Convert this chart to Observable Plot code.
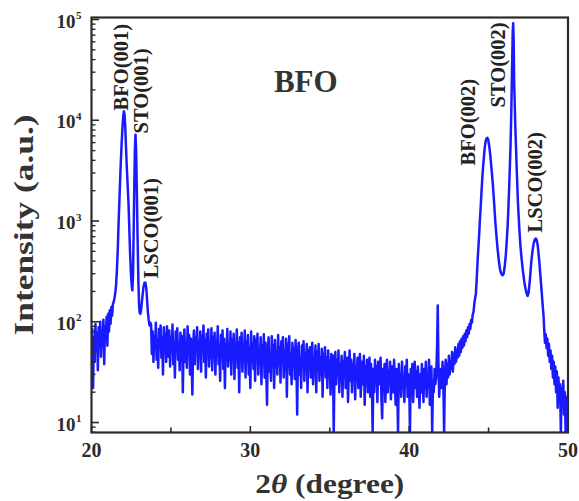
<!DOCTYPE html>
<html>
<head>
<meta charset="utf-8">
<script src="https://cdn.jsdelivr.net/npm/d3@7"></script>
<script src="https://cdn.jsdelivr.net/npm/@observablehq/plot@0.6"></script>
<style>
  html, body { margin: 0; padding: 0; background: #fff; }
  #chart svg { display: block; }
</style>
</head>
<body>
<div id="chart"></div>
<script>
// ---------- data ----------
const scanStep = 0.05; // 2θ step of the evenly sampled scan parts

// background 20.00 – 21.30
const noiseAStart = 20.00;
const noiseA = [48, 85, 22, 70, 40, 95, 52, 78, 33, 88,
  56, 100, 45, 82, 60, 105, 38, 90, 66, 112,
  58, 120, 80, 130, 95, 140, 115];

// BFO(001) / STO(001) / LSCO(001) region
const peak1Theta = [21.35, 21.40, 21.45, 21.50, 21.55, 21.60, 21.65, 21.70, 21.75, 21.80,
  21.85, 21.90, 21.95, 22.00, 22.04, 22.08, 22.12, 22.17, 22.22, 22.28,
  22.33, 22.38, 22.43, 22.48, 22.53, 22.57, 22.61, 22.65, 22.69, 22.73,
  22.77, 22.81, 22.85, 22.90, 22.95, 23.00, 23.04, 23.08, 23.13, 23.20,
  23.27, 23.33, 23.39, 23.45, 23.50, 23.55, 23.60, 23.65, 23.70];
const peak1Int = [150, 158, 172, 195, 235, 330, 500, 900, 1500, 2500,
  4000, 6000, 8500, 11000, 12300, 11500, 9000, 5500, 3500, 2200,
  1500, 850, 480, 310, 230, 205, 270, 700, 2000, 5000,
  7200, 5000, 2200, 700, 260, 140, 122, 120, 135, 175,
  220, 243, 245, 215, 165, 125, 105, 92, 98];

// background 23.75 – 41.65
const noiseBStart = 23.75;
const noiseB = [
  95, 48, 80, 40, 72, 55, 98, 42, 66, 35, 85, 58, 92, 44, 70, 30, 88, 52, 76, 40,
  90, 60, 45, 82, 36, 70, 50, 94, 38, 64, 28, 80, 55, 86, 42, 62, 33, 78, 48, 72,
  20, 66, 84, 40, 58, 35, 90, 52, 74, 30, 68, 45, 19, 60, 82, 38, 70, 50, 88, 34,
  62, 46, 80, 32, 72, 55, 92, 40, 66, 28, 76, 50, 84, 36, 60, 44, 86, 33, 70, 48,
  78, 30, 64, 52, 90, 38, 58, 26, 74, 46, 82, 34, 68, 22, 60, 48, 85, 36, 56, 42,
  80, 30, 66, 44, 76, 27, 58, 50, 84, 35, 62, 20, 70, 42, 78, 32, 54, 46, 82, 28,
  64, 40, 74, 30, 56, 22, 80, 44, 60, 34, 72, 26, 66, 48, 76, 30, 52, 38, 70, 24,
  58, 42, 75, 28, 62, 36, 15, 54, 70, 32, 48, 26, 72, 40, 58, 22, 66, 36, 50, 30,
  74, 38, 56, 25, 64, 44, 70, 28, 52, 34, 68, 18, 60, 40, 72, 30, 48, 24, 62, 36,
  54, 27, 66, 40, 12, 50, 62, 30, 44, 22, 58, 36, 64, 26, 48, 34, 60, 20, 52, 38,
  56, 28, 46, 62, 24, 42, 34, 58, 20, 50, 36, 60, 26, 44, 30, 54, 18, 48, 38, 56,
  28, 44, 22, 52, 34, 40, 19, 48, 30, 46, 8, 36, 50, 24, 42, 30, 52, 20, 38, 26,
  46, 18, 40, 30, 50, 22, 36, 44, 16, 34, 52, 26, 42, 20, 38, 28, 48, 17, 36, 30,
  44, 22, 34, 48, 18, 30, 40, 24, 46, 15, 36, 28, 42, 20, 32, 44, 18, 38, 26, 8,
  34, 20, 42, 26, 36, 16, 40, 24, 30, 44, 18, 11, 34, 22, 38, 16, 28, 42, 20, 32,
  24, 40, 17, 30, 36, 20, 42, 26, 15, 34, 22, 8, 38, 24, 30, 18, 40, 22, 28, 16,
  36, 24, 42, 18, 30, 26, 8, 34, 20, 38, 16, 28, 40, 22, 32, 18, 36, 24, 14, 30,
  20, 38, 26, 16, 34, 22, 40, 18, 30, 24, 42, 15, 28, 36, 8, 26, 20, 34, 24];

// narrow spike near 41.8
const spikeTheta = [41.70, 41.76, 41.80, 41.84, 41.89, 41.95];
const spikeInt = [28, 60, 145, 40, 18, 30];

// background rising 42.00 – 44.10
const noiseCStart = 42.00;
const noiseC = [34, 22, 40, 26, 8, 30, 42, 24, 38, 28,
  46, 30, 40, 34, 50, 32, 48, 38, 56, 40,
  52, 44, 60, 46, 64, 50, 68, 55, 72, 58,
  76, 64, 82, 70, 88, 76, 95, 85, 104, 98,
  118, 125, 150];

// BFO(002) / STO(002) / LSCO(002) region
const peak2Theta = [44.15, 44.20, 44.25, 44.30, 44.35, 44.40, 44.45, 44.50, 44.55, 44.60,
  44.65, 44.70, 44.75, 44.80, 44.85, 44.92, 44.98, 45.05, 45.12, 45.20,
  45.27, 45.35, 45.42, 45.50, 45.57, 45.65, 45.72, 45.80, 45.88, 45.95,
  46.02, 46.08, 46.14, 46.20, 46.26, 46.32, 46.38, 46.43, 46.48, 46.52,
  46.55, 46.58, 46.61, 46.64, 46.68, 46.72, 46.78, 46.85, 46.93, 47.00,
  47.08, 47.16, 47.25, 47.33, 47.40, 47.46, 47.52, 47.60, 47.68, 47.76,
  47.84, 47.92, 47.98, 48.04, 48.10, 48.18, 48.26, 48.34, 48.40, 48.46];
const peak2Int = [170, 190, 260, 380, 520, 700, 1000, 1350, 1900, 2600,
  3400, 4200, 5200, 6000, 6500, 6700, 6400, 5400, 4300, 3100,
  2300, 1500, 1000, 700, 520, 400, 330, 300, 290, 300,
  360, 450, 620, 900, 1500, 2800, 5500, 12000, 35000, 75000,
  92000, 60000, 24000, 16000, 9000, 5800, 3000, 1500, 870, 580,
  420, 320, 250, 210, 190, 180, 195, 260, 380, 500,
  600, 660, 670, 640, 560, 420, 290, 200, 150, 115];

// background tail 48.50 – 50.00
const noiseDStart = 48.50;
const noiseD = [85, 62, 75, 55, 68, 46, 60, 40, 52, 34,
  46, 28, 40, 24, 36, 20, 32, 14, 28, 18,
  24, 8, 22, 16, 26, 12, 20, 8, 18, 8, 14];

// peak annotations (anchor = bottom end of the rotated label, in data units)
const peakNames = ["BFO(001)", "STO(001)", "LSCO(001)", "BFO(002)", "STO(002)", "LSCO(002)"];
const peakLabelTheta = [21.86, 23.12, 23.75, 43.73, 45.62, 47.98];
const peakLabelInt = [12500, 7400, 270, 3560, 13400, 770];

// axes
const xDomain = [20, 50];
const yDomain = [7.96, 104700];
const xMajorTicks = [20, 30, 40, 50];
const xMinorTicks = [25, 35, 45];
const yMajorTicks = [10, 100, 1000, 10000, 100000];
const yMinorTicks = [8, 9,
  20, 30, 40, 50, 60, 70, 80, 90,
  200, 300, 400, 500, 600, 700, 800, 900,
  2000, 3000, 4000, 5000, 6000, 7000, 8000, 9000,
  20000, 30000, 40000, 50000, 60000, 70000, 80000, 90000];

const titleText = "BFO";
const xTitle = "2θ (degree)";
const yTitle = "Intensity (a.u.)";

// ---------- build the scan ----------
const scan = [];
const addEven = (start, vals) => vals.forEach((v, i) => scan.push({theta: +(start + i * scanStep).toFixed(2), I: v}));
const addPairs = (th, vals) => th.forEach((t, i) => scan.push({theta: t, I: vals[i]}));
addEven(noiseAStart, noiseA);
addPairs(peak1Theta, peak1Int);
addEven(noiseBStart, noiseB);
addPairs(spikeTheta, spikeInt);
addEven(noiseCStart, noiseC);
addPairs(peak2Theta, peak2Int);
addEven(noiseDStart, noiseD);

const serif = "'Liberation Serif', 'Times New Roman', Times, serif";
const ink = "#2b2b2b";

const chart = Plot.plot({
  width: 579,
  height: 501,
  marginLeft: 91,
  marginRight: 11.5,
  marginTop: 17,
  marginBottom: 69,
  style: {fontFamily: serif, background: "#fff", color: ink},
  x: {domain: xDomain, axis: null},
  y: {type: "log", domain: yDomain, axis: null},
  marks: [
    Plot.line(scan, {x: "theta", y: "I", stroke: "#1a1aff", strokeWidth: 2.5, clip: true}),
    // ticks (inward)
    Plot.axisY(yMajorTicks, {anchor: "left", tickSize: -8, fill: "none", label: null, stroke: ink, strokeWidth: 1.6}),
    Plot.axisY(yMinorTicks, {anchor: "left", tickSize: -4.5, fill: "none", label: null, stroke: ink, strokeWidth: 1.4}),
    Plot.axisX(xMajorTicks, {anchor: "bottom", tickSize: -6, fill: "none", label: null, stroke: ink, strokeWidth: 1.6}),
    Plot.axisX(xMinorTicks, {anchor: "bottom", tickSize: -4.5, fill: "none", label: null, stroke: ink, strokeWidth: 1.6}),
    Plot.frame({stroke: ink, strokeWidth: 2.2}),
    // tick labels
    Plot.text(xMajorTicks, {x: d => d, frameAnchor: "bottom", dy: 18, lineAnchor: "middle", textAnchor: "middle",
      text: d => String(d), fontSize: 20, fontWeight: "bold", fill: ink}),
    Plot.text(yMajorTicks, {y: d => d, frameAnchor: "left", dx: -16, dy: 2, textAnchor: "end", lineAnchor: "middle",
      text: () => "10", fontSize: 19, fontWeight: "bold", fill: ink}),
    Plot.text(yMajorTicks, {y: d => d, frameAnchor: "left", dx: -15.5, dy: -4, textAnchor: "start", lineAnchor: "middle",
      text: d => String(Math.round(Math.log10(d))), fontSize: 11, fontWeight: "bold", fill: ink}),
    // axis titles
    Plot.text([yTitle], {frameAnchor: "left", dx: -67, rotate: -90, textAnchor: "middle", lineAnchor: "middle",
      text: d => d, fontSize: 27, fontWeight: "bold", fill: "#333"}),
    Plot.text([xTitle], {frameAnchor: "bottom", dy: 52, textAnchor: "middle", lineAnchor: "middle",
      text: d => d, fontSize: 28, fontWeight: "bold", fill: "#333"}),
    // inner title
    Plot.text([titleText], {frameAnchor: "top", dx: -24, dy: 65, textAnchor: "middle", lineAnchor: "middle",
      text: d => d, fontSize: 31, fontWeight: "bold", fill: "#333"}),
    // peak labels
    Plot.text(peakNames, {x: peakLabelTheta, y: peakLabelInt, text: d => d, rotate: -90,
      textAnchor: "start", lineAnchor: "middle", fontSize: 20.5, fontWeight: "bold", fill: "#222"})
  ]
});

// italic θ in the x title, and match the long axis-title extents of the reference
chart.querySelectorAll("text").forEach(t => {
  if (t.textContent === xTitle) {
    t.textContent = "";
    const ns = "http://www.w3.org/2000/svg";
    const parts = [["2", null], ["θ", "italic"], [" (degree)", null]];
    parts.forEach(([s, st]) => {
      const ts = document.createElementNS(ns, "tspan");
      ts.textContent = s;
      if (st) ts.setAttribute("font-style", st);
      t.appendChild(ts);
    });
    t.setAttribute("textLength", 149);
    t.setAttribute("lengthAdjust", "spacingAndGlyphs");
  } else if (t.textContent === yTitle) {
    t.setAttribute("textLength", 221);
    t.setAttribute("lengthAdjust", "spacingAndGlyphs");
  }
});

document.getElementById("chart").appendChild(chart);
</script>
</body>
</html>
